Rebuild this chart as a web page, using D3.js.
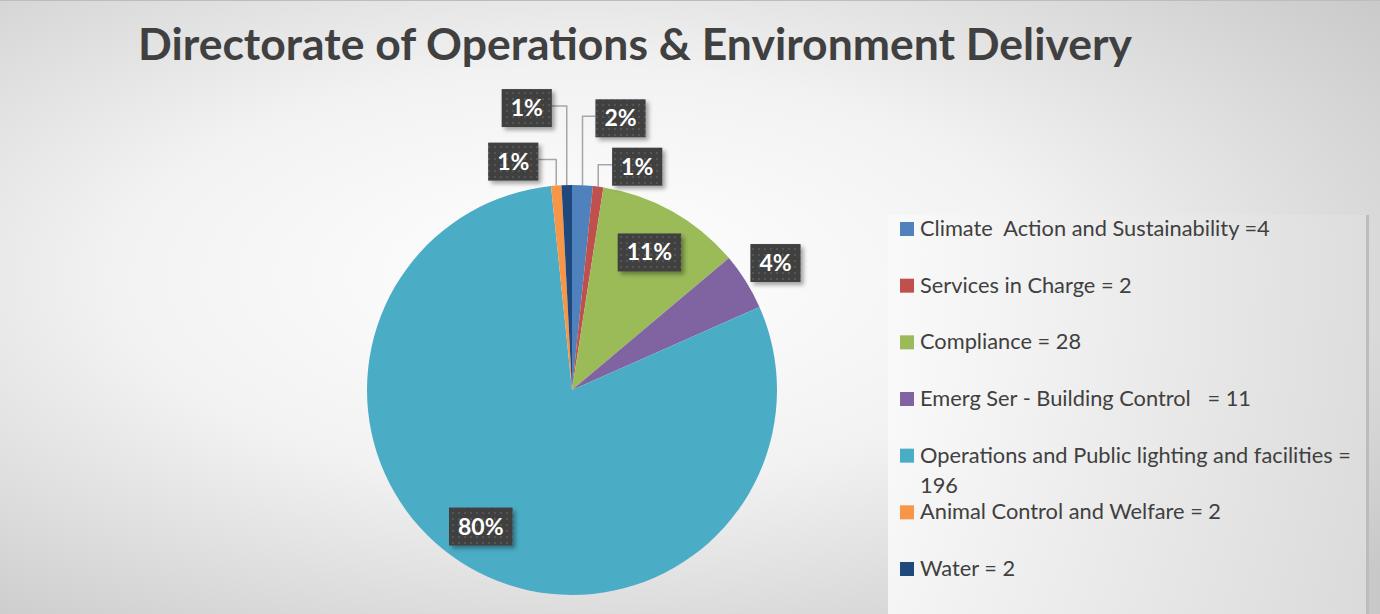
<!DOCTYPE html>
<html><head><meta charset="utf-8">
<script src="https://cdn.jsdelivr.net/npm/d3@7"></script>
<style>html,body{margin:0;padding:0;overflow:hidden;background:#fff}</style>
</head><body><svg id="c" width="1380" height="614"></svg>
<script>
const categories = ["Climate  Action and Sustainability =4","Services in Charge = 2","Compliance = 28","Emerg Ser - Building Control   = 11","Operations and Public lighting and facilities = 196","Animal Control and Welfare = 2","Water = 2"];
const values = [4, 2, 28, 11, 196, 2, 2];
const colors = ["#4f81bd","#c0504d","#9bbb59","#8064a2","#4bacc6","#f79646","#1f497d"];
const title = "Directorate of Operations & Environment Delivery";
// label placement: "in" = radius factor; "out" = offset from slice edge point with leader line
const labelMode = ["out","out","in","in","in","out","out"];
const labelRad  = [0, 0, 0.77, 1.17, 0.77, 0, 0];
const labelOff  = [[38,-67],[39,-20],[0,0],[0,0],[-12,0],[-43,-24],[-40,-77]];

const W=1380,H=614, cx=572, cy=390, R=205;
const svg=d3.select("#c");
const defs=svg.append("defs");
const bg=defs.append("radialGradient").attr("id","bg").attr("cx","0.42").attr("cy","0.45").attr("r","0.75");
bg.append("stop").attr("offset","0").attr("stop-color","#ffffff");
bg.append("stop").attr("offset","0.45").attr("stop-color","#f2f2f2");
bg.append("stop").attr("offset","1").attr("stop-color","#c8c8c8");
const pat=defs.append("pattern").attr("id","dots").attr("width",6).attr("height",6).attr("patternUnits","userSpaceOnUse");
pat.append("rect").attr("width",6).attr("height",6).attr("fill","#404040");
pat.append("rect").attr("x",2).attr("y",2).attr("width",2).attr("height",2).attr("fill","#545454");
const sh=defs.append("filter").attr("id","sh").attr("x","-20%").attr("y","-20%").attr("width","150%").attr("height","160%");
sh.append("feDropShadow").attr("dx",3).attr("dy",3).attr("stdDeviation",2).attr("flood-color","#000").attr("flood-opacity",0.35);
const lg=defs.append("linearGradient").attr("id","lg").attr("x1","0").attr("x2","1");
lg.append("stop").attr("offset","0").attr("stop-color","#fafafa");
lg.append("stop").attr("offset","1").attr("stop-color","#dedede");

svg.append("rect").attr("width",W).attr("height",H).attr("fill","url(#bg)");
svg.append("line").attr("x1",0).attr("x2",W).attr("y1",0.5).attr("y2",0.5).attr("stroke","#bdbdbd");

svg.append("text").attr("x",138).attr("y",60).attr("font-family","Lato, 'Open Sans', sans-serif")
  .attr("font-weight","bold").attr("font-size",44).attr("fill","#404040")
  .attr("textLength",994).attr("lengthAdjust","spacingAndGlyphs").text(title);

// legend
const lgX=888, lgY=215;
svg.append("rect").attr("x",lgX).attr("y",lgY).attr("width",480).attr("height",H-lgY).attr("fill","url(#lg)").attr("opacity",0.85);
svg.append("rect").attr("x",1366).attr("y",lgY).attr("width",3).attr("height",H-lgY).attr("fill","#bcbcbc");
const rowY=d3.scalePoint().domain(d3.range(categories.length)).range([229,569]);
const leg=svg.append("g");
categories.forEach((c,i)=>{
  const y=rowY(i);
  leg.append("rect").attr("x",900).attr("y",y-7).attr("width",14).attr("height",14).attr("fill",colors[i]);
  const t=leg.append("text").attr("x",920).attr("y",y+7).attr("font-family","Lato, 'Open Sans', sans-serif")
    .attr("font-size",21.8).attr("fill","#404040").attr("xml:space","preserve");
  const words=c.split(" ");
  let line=[], ts=t.append("tspan").attr("x",920);
  words.forEach(w=>{
    line.push(w); ts.text(line.join(" "));
    if(ts.node().getComputedTextLength()>445 && line.length>1){
      line.pop(); ts.text(line.join(" ")); line=[w];
      ts=t.append("tspan").attr("x",920).attr("dy",30).text(w);
    }
  });
});

// pie
const pie=d3.pie().sort(null).value(d=>d)(values);
const arc=d3.arc().innerRadius(0).outerRadius(R);
const g=svg.append("g").attr("transform",`translate(${cx},${cy})`);
g.selectAll("path").data(pie).join("path").attr("d",arc).attr("fill",(d,i)=>colors[i]);

const total=d3.sum(values);
const fmt=v=>Math.round(v/total*100)+"%";
const labG=svg.append("g");
pie.forEach((d,i)=>{
  const a=(d.startAngle+d.endAngle)/2;
  let x,y;
  if(labelMode[i]==="in"){
    x=cx+Math.sin(a)*R*labelRad[i]+labelOff[i][0]; y=cy-Math.cos(a)*R*labelRad[i]+labelOff[i][1];
  } else {
    const ex=cx+Math.sin(a)*R, ey=cy-Math.cos(a)*R;
    x=ex+labelOff[i][0]; y=ey+labelOff[i][1];
  }
  const gg=labG.append("g");
  const t=gg.append("text").attr("x",x).attr("y",y+8).attr("text-anchor","middle")
    .attr("font-family","Lato, 'Open Sans', sans-serif").attr("font-weight","bold").attr("font-size",23)
    .attr("fill","#fff").text(fmt(d.value));
  const w=t.node().getComputedTextLength()+18, h=38;
  gg.insert("rect","text").attr("x",x-w/2).attr("y",y-h/2).attr("width",w).attr("height",h)
    .attr("fill","url(#dots)").attr("filter","url(#sh)");
  if(labelMode[i]==="out"){
    const ex=cx+Math.sin(a)*R, ey=cy-Math.cos(a)*R;
    const bx= x<ex ? x+w/2 : x-w/2;
    const by= y-2;
    labG.insert("path","g").attr("d",`M${bx},${by}H${ex}V${ey}`).attr("fill","none")
      .attr("stroke","#a6a6a6").attr("stroke-width",1.5);
  }
});
</script></body></html>
